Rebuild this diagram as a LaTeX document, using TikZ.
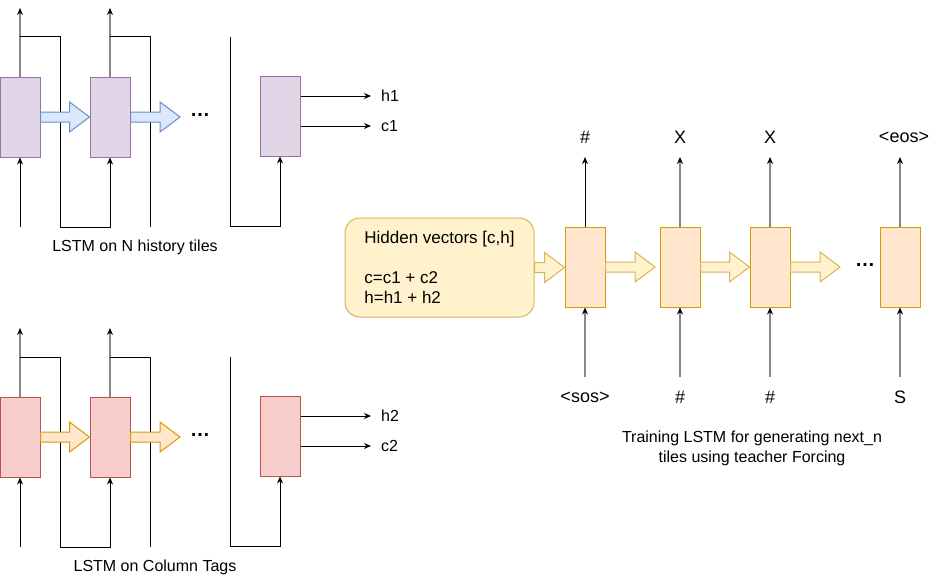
\documentclass[tikz,border=0pt]{standalone}
\usepackage{fontspec}
\setmainfont{Liberation Sans}
\usetikzlibrary{arrows.meta,calc}

\definecolor{roxo}{HTML}{E1D5E7}
\definecolor{roxoborda}{HTML}{9673A6}
\definecolor{rosa}{HTML}{F8CECC}
\definecolor{rosaborda}{HTML}{B85450}
\definecolor{pessego}{HTML}{FFE6CC}
\definecolor{pessegoborda}{HTML}{D79B00}
\definecolor{azul}{HTML}{DAE8FC}
\definecolor{azulborda}{HTML}{6C8EBF}
\definecolor{amarelo}{HTML}{FFF2CC}
\definecolor{amareloborda}{HTML}{D6B656}
\definecolor{cinza}{HTML}{888888}

\tikzset{
  cel/.style={minimum width=40pt, minimum height=80pt, inner sep=0pt, line width=1pt},
  celroxa/.style={cel, fill=roxo, draw=roxoborda},
  celrosa/.style={cel, fill=rosa, draw=rosaborda},
  celpessego/.style={cel, fill=pessego, draw=pessegoborda},
  linha/.style={line width=1pt, -{Stealth[length=7pt,width=6pt]}},
  linhacinza/.style={draw=cinza, line width=2.5pt, -{Stealth[length=7pt,width=6pt,color=black]}},
  rot/.style={inner sep=0pt, font=\fontsize{16}{20}\selectfont},
  rotg/.style={inner sep=0pt, font=\fontsize{18}{22}\selectfont},
  pontos/.style={inner sep=0pt, font=\fontsize{20}{24}\selectfont\bfseries},
  setaazul/.style={fill=azul, draw=azulborda, line width=1pt},
  setalaranja/.style={fill=pessego, draw=pessegoborda, line width=1pt},
  setaamarela/.style={fill=amarelo, draw=amareloborda, line width=1pt},
  ocultos/.style={rounded corners=15pt, fill=amarelo, draw=amareloborda, line width=1pt,
    minimum width=189pt, minimum height=99pt, align=left, font=\fontsize{17}{20}\selectfont}
}

% seta larga: estilo, origem, ponta
\newcommand\seta[3]{%
  \path[#1] let \p1=(#2), \p2=(#3) in
    (\x1,\y1+5pt) -- (\x2-20pt,\y1+5pt) -- (\x2-20pt,\y1+15pt) -- (\x2,\y1)
    -- (\x2-20pt,\y1-15pt) -- (\x2-20pt,\y1-5pt) -- (\x1,\y1-5pt) -- cycle;}

\begin{document}
\begin{tikzpicture}[x=1pt,y=-1pt]
  \useasboundingbox (0,0) rectangle (941,578);

  %lstm do historico
  \node[celroxa] (a1) at (20,117) {};
  \node[celroxa] (a2) at (110,117) {};
  \node[celroxa] (a3) at (280,116) {};
  \coordinate (sa1) at (20,8);
  \coordinate (sa2) at (110,8);
  \coordinate (ea1) at (20,227);
  \coordinate (la1) at (20,37);
  \coordinate (la2) at (110,37);
  \coordinate (la3) at (230,37);
  \draw[linhacinza] (a1.north) -- (sa1);
  \draw[linhacinza] (a2.north) -- (sa2);
  \draw[linha] (ea1) -- (a1.south);
  \draw[linha] (la1) -- ++(40,0) -- ++(0,190) -| (a2.south);
  \draw[line width=1pt] (la2) -- ++(40,0) -- ++(0,190);
  \draw[linha] (la3) -- ++(0,189) -| (a3.south);
  \node[rot,anchor=west] (h1) at (381,96) {h1};
  \node[rot,anchor=west] (c1) at (381,126) {c1};
  \draw[linha] (a3.east |- h1) -- ([xshift=-10pt]h1.west);
  \draw[linha] (a3.east |- c1) -- ([xshift=-10pt]c1.west);
  \coordinate (pa) at (180,117);
  \seta{setaazul}{a1.east}{a2.west}
  \seta{setaazul}{a2.east}{pa}
  \node[pontos] (da) at (200,115) {…};
  \node[rot] (ta) at (135,247) {LSTM on N history tiles};

  %lstm das colunas
  \node[celrosa] (b1) at (20,437) {};
  \node[celrosa] (b2) at (110,437) {};
  \node[celrosa] (b3) at (280,436) {};
  \coordinate (sb1) at (20,328);
  \coordinate (sb2) at (110,328);
  \coordinate (eb1) at (20,547);
  \coordinate (lb1) at (20,357);
  \coordinate (lb2) at (110,357);
  \coordinate (lb3) at (230,357);
  \draw[linhacinza] (b1.north) -- (sb1);
  \draw[linhacinza] (b2.north) -- (sb2);
  \draw[linha] (eb1) -- (b1.south);
  \draw[linha] (lb1) -- ++(40,0) -- ++(0,190) -| (b2.south);
  \draw[line width=1pt] (lb2) -- ++(40,0) -- ++(0,190);
  \draw[linha] (lb3) -- ++(0,189) -| (b3.south);
  \node[rot,anchor=west] (h2) at (381,416) {h2};
  \node[rot,anchor=west] (c2) at (381,446) {c2};
  \draw[linha] (b3.east |- h2) -- ([xshift=-10pt]h2.west);
  \draw[linha] (b3.east |- c2) -- ([xshift=-10pt]c2.west);
  \coordinate (pb) at (180,437);
  \seta{setalaranja}{b1.east}{b2.west}
  \seta{setalaranja}{b2.east}{pb}
  \node[pontos] (db) at (200,435) {…};
  \node[rot] (tb) at (155,567) {LSTM on Column Tags};

  %vetores ocultos
  \node[ocultos] (hv) at (439.5,267.5) {Hidden vectors [c,h]\\[20pt]c=c1 + c2\\h=h1 + h2};

  %lstm de treino
  \node[celpessego] (t1) at (585,267) {};
  \node[celpessego] (t2) at (680,267) {};
  \node[celpessego] (t3) at (770,267) {};
  \node[celpessego] (t4) at (900,267) {};
  \node[rotg] (o1) at (585,137) {\#};
  \node[rotg] (o2) at (680,137) {X};
  \node[rotg] (o3) at (770,137) {X};
  \node[rotg] (o4) at (904,137) {<eos>};
  \node[rotg] (i1) at (585,397) {<sos>};
  \node[rotg] (i2) at (680,397) {\#};
  \node[rotg] (i3) at (770,397) {\#};
  \node[rotg] (i4) at (900,397) {S};
  \coordinate (so1) at (585,157);
  \coordinate (so2) at (680,157);
  \coordinate (so3) at (770,157);
  \coordinate (so4) at (900,157);
  \coordinate (en1) at (585,377);
  \coordinate (en2) at (680,377);
  \coordinate (en3) at (770,377);
  \coordinate (en4) at (900,377);
  \draw[linha] (t1.north) -- (so1);
  \draw[linhacinza] (t2.north) -- (so2);
  \draw[linhacinza] (t3.north) -- (so3);
  \draw[linhacinza] (t4.north) -- (so4);
  \draw[linhacinza] (en1) -- (t1.south);
  \draw[linhacinza] (en2) -- (t2.south);
  \draw[linhacinza] (en3) -- (t3.south);
  \draw[linhacinza] (en4) -- (t4.south);
  \coordinate (pt2) at (655,267);
  \coordinate (pt4) at (840,267);
  \seta{setaamarela}{hv.east}{t1.west}
  \seta{setaamarela}{t1.east}{pt2}
  \seta{setaamarela}{t2.east}{t3.west}
  \seta{setaamarela}{t3.east}{pt4}
  \node[pontos] (dt) at (865,265) {…};
  \node[rot,align=center] (tt) at (752,448) {Training LSTM for generating next\_n\\tiles using teacher Forcing};
\end{tikzpicture}
\end{document}
